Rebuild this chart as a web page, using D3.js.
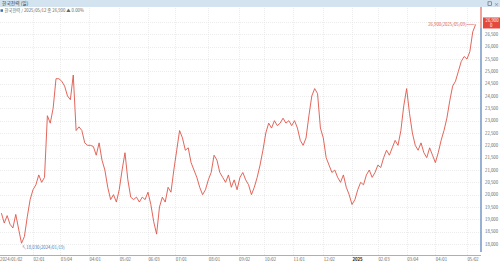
<!DOCTYPE html>
<html>
<head>
<meta charset="utf-8">
<script src="https://cdn.jsdelivr.net/npm/d3@7"></script>
<style>
  body { margin: 0; background: #fff; }
  svg { display: block; font-family: "Noto Sans CJK KR", "Noto Sans", sans-serif; }
</style>
</head>
<body>
<script>
// daily close, one value every 2 trading days (day index = 2 * position)
const prices = [
  19250, 18850, 19150, 18800, 18650, 19200, 18600, 18030, 18300, 19100,
  19800, 20200, 20400, 20800, 20500, 20700, 23200, 22900, 23500, 24700,
  24700, 24600, 24400, 24000, 23850, 24850, 22600, 22750, 22600, 22100,
  22000, 22000, 21950, 21600, 22100, 21400, 21000, 20300, 19800, 20000,
  19700, 20200, 21000, 21700, 20600, 19900, 19800, 19900, 19700, 19900,
  19800, 20100, 19600, 18900, 18400, 19500, 19900, 19700, 20300, 20100,
  21000, 21800, 22600, 22300, 21800, 21900, 21300, 21000, 20700, 20300,
  20000, 20200, 20600, 20900, 21600, 21400, 20900, 20700, 20500, 20800,
  20300, 20600, 20200, 20700, 20900, 20600, 20400, 20000, 20300, 20700,
  21200, 21800, 22500, 22900, 22700, 23000, 22800, 22900, 23100, 22900,
  23000, 22800, 23000, 22700, 22200, 22000, 22300, 23200, 24000, 24300,
  24100, 22700, 22300, 21500, 21200, 20900, 21000, 20700, 20500, 20800,
  20300, 20000, 19600, 19800, 20200, 20500, 20400, 20800, 21000, 20700,
  20900, 21200, 21100, 21500, 21800, 21600, 21900, 22200, 22000, 22600,
  23600, 24300, 23300, 22500, 22000, 21800, 22100, 21700, 21500, 21900,
  21600, 21300, 21700, 22200, 22600, 23100, 23800, 24400, 24600, 25000,
  25400, 25600, 25500, 25800, 26600, 26900
];

// first trading day of each month (trading-day index) and its label
const monthLabels = ["2024/01/02", "02/01", "03/04", "04/01", "05/02", "06/03", "07/01", "08/01",
  "09/02", "10/02", "11/01", "12/02", "2025", "02/03", "03/04", "04/01", "05/02"];
const monthDays = [0, 22, 41, 61, 82, 102, 121, 144, 165, 183, 203, 224, 244, 262, 282, 302, 324];

const yTicks = [18000, 18500, 19000, 19500, 20000, 20500, 21000, 21500, 22000,
  22500, 23000, 23500, 24000, 24500, 25000, 25500, 26000, 26500, 27000];

const title = "한국전력 (일)";
const info = "한국전력 / 2025/05/12 종 26,900 ▲ 0.00%";
const lowLabel = "18,030(2024/01/19)";
const highLabel = "26,900(2025/05/09)";

const w = 500, h = 261;
const axisX = 481;
const lastDay = (prices.length - 1) * 2;

const svg = d3.select("body").append("svg")
  .attr("width", w)
  .attr("height", h);

const x = d3.scaleLinear().domain([0, lastDay]).range([1.4, 1.4 + lastDay * 1.437]);
const y = d3.scaleLinear().domain([18000, 27000]).range([244, 22]);

// header bar
svg.append("rect").attr("x", 0).attr("y", 0).attr("width", w).attr("height", 7).attr("fill", "#d4e3f0");
svg.append("text").attr("x", 2).attr("y", 5.4).style("font-size", "4.8px").attr("fill", "#333").text(title);
svg.append("rect").attr("x", 488).attr("y", 1.8).attr("width", 3.5).attr("height", 3.5)
  .attr("fill", "none").attr("stroke", "#556").attr("stroke-width", 0.6);
svg.append("text").attr("x", 494).attr("y", 5.5).style("font-size", "5px").attr("fill", "#556").text("×");

svg.append("rect").attr("x", 0.5).attr("y", 9.3).attr("width", 2.5).attr("height", 2.5).attr("fill", "#3b6fb6");
svg.append("text").attr("x", 4.5).attr("y", 12.2).style("font-size", "4.3px").attr("fill", "#666").text(info);

// grid
svg.append("g").selectAll("line").data(yTicks).enter().append("line")
  .attr("x1", 0).attr("x2", axisX)
  .attr("y1", d => Math.round(y(d)) + 0.5).attr("y2", d => Math.round(y(d)) + 0.5)
  .attr("stroke", "#e4e4e4").attr("stroke-width", 0.7).attr("stroke-dasharray", "1,1");

svg.append("g").selectAll("line").data(monthDays.slice(1)).enter().append("line")
  .attr("x1", d => Math.round(x(d)) + 0.5).attr("x2", d => Math.round(x(d)) + 0.5)
  .attr("y1", 8).attr("y2", 255)
  .attr("stroke", "#e4e4e4").attr("stroke-width", 0.7).attr("stroke-dasharray", "1,1");

// bottom axis
svg.append("line").attr("x1", 0).attr("x2", axisX).attr("y1", 255.5).attr("y2", 255.5)
  .attr("stroke", "#9a9a9a").attr("stroke-width", 0.8);
svg.append("g").selectAll("text").data(monthLabels).enter().append("text")
  .attr("x", (d, i) => i === 0 ? 0 : x(monthDays[i]) + 0.5)
  .attr("y", 260.5)
  .style("font-size", "4.3px")
  .style("font-weight", d => d === "2025" ? "bold" : "normal")
  .attr("fill", d => d === "2025" ? "#222" : "#666")
  .text(d => d);

// right axis
svg.append("line").attr("x1", axisX).attr("x2", axisX).attr("y1", 28).attr("y2", 252)
  .attr("stroke", "#6a8fc0").attr("stroke-width", 1.4);
svg.append("line").attr("x1", axisX).attr("x2", axisX).attr("y1", 7).attr("y2", 28)
  .attr("stroke", "#e0483c").attr("stroke-width", 1);
svg.append("g").selectAll("text").data(yTicks.filter(d => d < 27000)).enter().append("text")
  .attr("x", 485).attr("y", d => y(d) + 1.6)
  .style("font-size", "4.3px").attr("fill", "#666")
  .text(d => d3.format(",")(d));

// price line
const line = d3.line()
  .x((d, i) => x(i * 2))
  .y(d => y(d));

svg.append("path").datum(prices)
  .attr("d", line)
  .attr("fill", "none")
  .attr("stroke", "#e05548")
  .attr("stroke-width", 0.9)
  .attr("stroke-linejoin", "round");

// current price tag
const last = prices[prices.length - 1];
svg.append("rect").attr("x", 483).attr("y", y(last) - 7).attr("width", 17).attr("height", 11).attr("fill", "#e5493d");
svg.append("text").attr("x", 485.5).attr("y", y(last) - 2.5).style("font-size", "4.3px").attr("fill", "#fff")
  .text(d3.format(",")(last));
svg.append("text").attr("x", 490).attr("y", y(last) + 2.3).style("font-size", "4.3px").attr("fill", "#fff").text("0");

// low / high annotations
const lowI = d3.minIndex(prices);
const highI = d3.maxIndex(prices);
svg.append("text").attr("x", x(lowI * 2) + 0.5).attr("y", y(prices[lowI]) + 5.5)
  .style("font-size", "4.3px").attr("fill", "#4b79b8").text("↖" + lowLabel);

svg.append("line").attr("x1", x(highI * 2) - 9).attr("x2", x(highI * 2) - 1)
  .attr("y1", y(prices[highI])).attr("y2", y(prices[highI]))
  .attr("stroke", "#e05548").attr("stroke-width", 0.5);
svg.append("text").attr("x", x(highI * 2) - 9).attr("y", y(prices[highI]) + 1.5)
  .attr("text-anchor", "end")
  .style("font-size", "4.3px").attr("fill", "#e05548").text(highLabel);
</script>
</body>
</html>
